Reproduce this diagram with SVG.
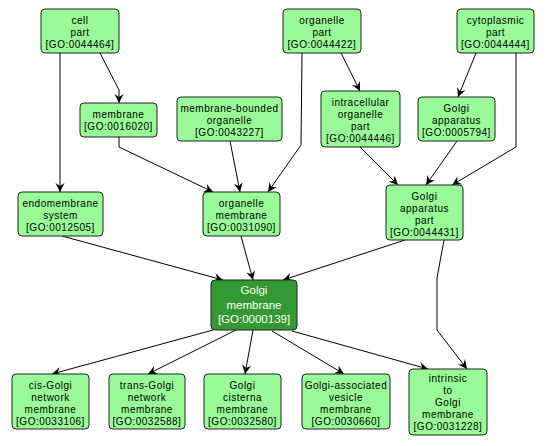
<svg xmlns="http://www.w3.org/2000/svg" width="547" height="446" viewBox="0 0 547 446">
<defs>
<style>
.n rect{fill:#98fb98;stroke:#222;stroke-width:1}
.n text{font-family:"Liberation Sans",Arial,sans-serif;font-size:10px;letter-spacing:0.5px;fill:#000;text-anchor:middle}
.d rect{fill:#339933;stroke:#222;stroke-width:1}
.d text{font-family:"Liberation Sans",Arial,sans-serif;font-size:11.5px;fill:#fff;text-anchor:middle}
.e path{fill:none;stroke:#000;stroke-width:1;marker-end:url(#ah)}
</style>
<marker id="ah" viewBox="-10 -5 11 10" refX="0" refY="0" markerWidth="11" markerHeight="10" markerUnits="userSpaceOnUse" orient="auto">
<path d="M0,0 L-9,-4.5 L-6,0 L-9,4.5 Z" fill="#000"/>
</marker>
</defs>
<rect width="547" height="446" fill="#fff"/>
<g id="edges" class="e">
<path d="M60,53 L60,192"/>
<path d="M100,53 L119,90 L119,103"/>
<path d="M119,137 L119,147 L213,192"/>
<path d="M230,141 L240,192"/>
<path d="M302,53 L301,145 L268,192"/>
<path d="M341,53 L360,91"/>
<path d="M476,53 L458,97"/>
<path d="M516,53 L516,147 L452,185"/>
<path d="M360,147 L398,185"/>
<path d="M457,141 L426,185"/>
<path d="M62,236 L223,280"/>
<path d="M241,236 L253,280"/>
<path d="M405,240 L283,280"/>
<path d="M444,240 L437,278 L437,330 L467,369"/>
<path d="M213,330 L52,374"/>
<path d="M236,330 L148,374"/>
<path d="M253,330 L245,374"/>
<path d="M272,331 L344,374"/>
<path d="M292,331 L428,369"/>
</g>
<g id="n_cell_part" class="n"><rect x="41" y="9" width="78" height="44" rx="4"/><text x="80" y="24">cell</text><text x="80" y="36">part</text><text x="80" y="48">[GO:0044464]</text></g>
<g id="n_organelle_part" class="n"><rect x="283" y="9" width="78" height="44" rx="4"/><text x="322" y="24">organelle</text><text x="322" y="36">part</text><text x="322" y="48">[GO:0044422]</text></g>
<g id="n_cytoplasmic_part" class="n"><rect x="457" y="9" width="77" height="44" rx="4"/><text x="495.5" y="24">cytoplasmic</text><text x="495.5" y="36">part</text><text x="495.5" y="48">[GO:0044444]</text></g>
<g id="n_membrane" class="n"><rect x="80" y="103" width="77" height="34" rx="4"/><text x="118.5" y="118">membrane</text><text x="118.5" y="130">[GO:0016020]</text></g>
<g id="n_mbo" class="n"><rect x="177" y="97" width="105" height="44" rx="4"/><text x="229.5" y="112">membrane-bounded</text><text x="229.5" y="124">organelle</text><text x="229.5" y="136">[GO:0043227]</text></g>
<g id="n_iop" class="n"><rect x="321" y="91" width="79" height="56" rx="4"/><text x="360.5" y="106">intracellular</text><text x="360.5" y="118">organelle</text><text x="360.5" y="130">part</text><text x="360.5" y="142">[GO:0044446]</text></g>
<g id="n_golgi_app" class="n"><rect x="418" y="97" width="77" height="44" rx="4"/><text x="456.5" y="112">Golgi</text><text x="456.5" y="124">apparatus</text><text x="456.5" y="136">[GO:0005794]</text></g>
<g id="n_endomem" class="n"><rect x="18" y="192" width="85" height="44" rx="4"/><text x="60.5" y="207">endomembrane</text><text x="60.5" y="219">system</text><text x="60.5" y="231">[GO:0012505]</text></g>
<g id="n_orgmem" class="n"><rect x="203" y="192" width="77" height="44" rx="4"/><text x="241.5" y="207">organelle</text><text x="241.5" y="219">membrane</text><text x="241.5" y="231">[GO:0031090]</text></g>
<g id="n_gap" class="n"><rect x="386" y="185" width="77" height="55" rx="4"/><text x="424.5" y="199.5">Golgi</text><text x="424.5" y="211.5">apparatus</text><text x="424.5" y="223.5">part</text><text x="424.5" y="235.5">[GO:0044431]</text></g>
<g id="n_golgi_mem" class="d"><rect x="211" y="280" width="86" height="50" rx="4"/><text x="254" y="294">Golgi</text><text x="254" y="308.5">membrane</text><text x="254" y="323">[GO:0000139]</text></g>
<g id="n_cis" class="n"><rect x="12" y="374" width="77" height="55" rx="4"/><text x="50.5" y="388.5">cis-Golgi</text><text x="50.5" y="400.5">network</text><text x="50.5" y="412.5">membrane</text><text x="50.5" y="424.5">[GO:0033106]</text></g>
<g id="n_trans" class="n"><rect x="109" y="374" width="76" height="55" rx="4"/><text x="147" y="388.5">trans-Golgi</text><text x="147" y="400.5">network</text><text x="147" y="412.5">membrane</text><text x="147" y="424.5">[GO:0032588]</text></g>
<g id="n_cisterna" class="n"><rect x="204" y="374" width="77" height="55" rx="4"/><text x="242.5" y="388.5">Golgi</text><text x="242.5" y="400.5">cisterna</text><text x="242.5" y="412.5">membrane</text><text x="242.5" y="424.5">[GO:0032580]</text></g>
<g id="n_gavm" class="n"><rect x="302" y="374" width="88" height="55" rx="4"/><text x="346" y="388.5">Golgi-associated</text><text x="346" y="400.5">vesicle</text><text x="346" y="412.5">membrane</text><text x="346" y="424.5">[GO:0030660]</text></g>
<g id="n_intrinsic" class="n"><rect x="409" y="369" width="78" height="66" rx="4"/><text x="448" y="382">intrinsic</text><text x="448" y="394">to</text><text x="448" y="406">Golgi</text><text x="448" y="418">membrane</text><text x="448" y="430">[GO:0031228]</text></g>
</svg>
